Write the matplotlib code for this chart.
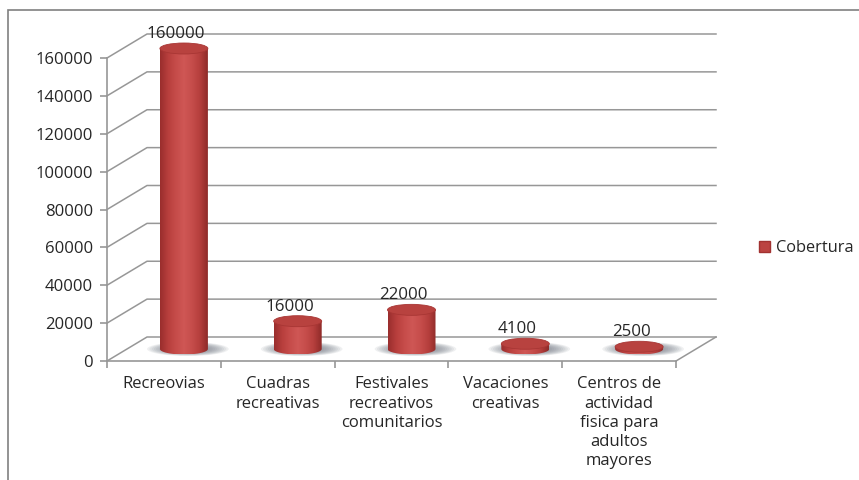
import numpy as np
import matplotlib
matplotlib.use('Agg')
import matplotlib.pyplot as plt
from matplotlib.colors import LinearSegmentedColormap
from matplotlib.patches import Ellipse, Patch, PathPatch, Rectangle
from matplotlib.path import Path

categories = ['Recreovias', 'Cuadras\nrecreativas', 'Festivales\nrecreativos\ncomunitarios',
              'Vacaciones\ncreativas', 'Centros de\nactividad\nfisica para\nadultos\nmayores']
values = [160000, 16000, 22000, 4100, 2500]
yticks = np.arange(0, 180000, 20000)
series_name = 'Cobertura'

plt.rcParams['font.family'] = ['Open Sans', 'DejaVu Sans']
grey = '#979797'
text_col = '#262626'

fig = plt.figure(figsize=(8.59, 4.8), dpi=100)
# axes runs above 160000 so the tall cylinder is not cropped
ax = fig.add_axes([107/859, (480-361)/480, 569/859, (303*180/160)/480])
ax.set_xlim(-0.5, 4.5)
ax.set_ylim(0, 180000)

# outer frame of the chart, only top and left are inside the picture
fig.add_artist(Rectangle((8/859, -0.02), 1.0, (470+10)/480, transform=fig.transFigure,
                         fill=False, ec='#808080', lw=1.2))

# depth of the fake 3d box, in data units
px_x = 5 / 569
px_y = 160000 / 303
dx = 40 * px_x
dy = 24 * px_y

# back wall and side wall
for v in yticks:
    ax.plot([-0.5, -0.5+dx, 4.5+dx], [v, v+dy, v+dy], color=grey, lw=1.1, clip_on=False, zorder=1)
ax.plot([4.5, 4.5+dx], [0, dy], color=grey, lw=1.1, clip_on=False, zorder=1)

cmap = LinearSegmentedColormap.from_list('cyl', ['#9a2e2d', '#b83f3d', '#c64c4a', '#cf5755', '#c64d4b', '#b63f3d', '#8f2b29'])
grad = np.linspace(0, 1, 64).reshape(1, -1)
bar_w = 48 * px_x
base = dy / 2
rx = bar_w / 2
ry_base = 5.5 * px_y
ry_top = 5.5 * px_y

for i, v in enumerate(values):
    cx = i + dx / 2
    top = base + v - 2.5 * px_y

    # soft shadow on the floor
    for k in np.linspace(1, 0.5, 10):
        ax.add_patch(Ellipse((cx + 4*px_x, base), bar_w * 1.7 * k, 14 * px_y * k, fc='#6a717d',
                             ec='none', alpha=0.10, clip_on=False, zorder=2))

    # body of the cylinder, shaded from left to right
    t = np.linspace(np.pi, 2*np.pi, 40)
    xs = np.r_[cx - rx, cx + rx * np.cos(t), cx + rx, cx - rx]
    ys = np.r_[top, base + ry_base * np.sin(t), top, top]
    body = PathPatch(Path(np.c_[xs, ys]), fc='none', ec='none', transform=ax.transData)
    ax.add_patch(body)
    im = ax.imshow(grad, extent=[cx-rx, cx+rx, base-ry_base, top], aspect='auto', cmap=cmap, zorder=3)
    im.set_clip_path(body)

    # top cap
    ax.add_patch(Ellipse((cx, top), bar_w, ry_top * 2, fc='#b8423f', ec='#a83634', lw=0.6,
                         clip_on=False, zorder=4))
    ax.annotate(str(v), (cx, top), xytext=(-8*0.72, 14.5*0.72), textcoords='offset points', ha='center',
                va='center', fontsize=12.2, color=text_col, annotation_clip=False, zorder=5)

ax.set_xlim(-0.5, 4.5)
ax.set_ylim(0, 180000)

for s in ['top', 'right']:
    ax.spines[s].set_visible(False)
for s in ['left', 'bottom']:
    ax.spines[s].set_color(grey)
    ax.spines[s].set_linewidth(1.2)
ax.spines['left'].set_bounds(0, 160000)
ax.patch.set_alpha(0)

ax.set_yticks(yticks)
ax.set_xticks(np.arange(0, 5))
ax.set_xticks(np.arange(-0.5, 5), minor=True)
ax.set_xticklabels(categories, fontsize=12, color=text_col, linespacing=1.27)
ax.tick_params(axis='x', which='major', length=0, pad=11)
ax.tick_params(axis='x', which='minor', length=5, color=grey, width=1.2)
ax.tick_params(axis='y', length=5, color=grey, width=1.2, pad=5, labelsize=12, labelcolor=text_col)

ax.legend(handles=[Patch(fc='#bb4341', ec='#a23231', label=series_name)], loc='center left',
          bbox_to_anchor=(744/859, (480-248)/480), bbox_transform=fig.transFigure, frameon=False,
          fontsize=11.8, handlelength=0.7, handleheight=0.7, handletextpad=0.35, labelcolor=text_col)

fig.savefig('out.png', dpi=100)
